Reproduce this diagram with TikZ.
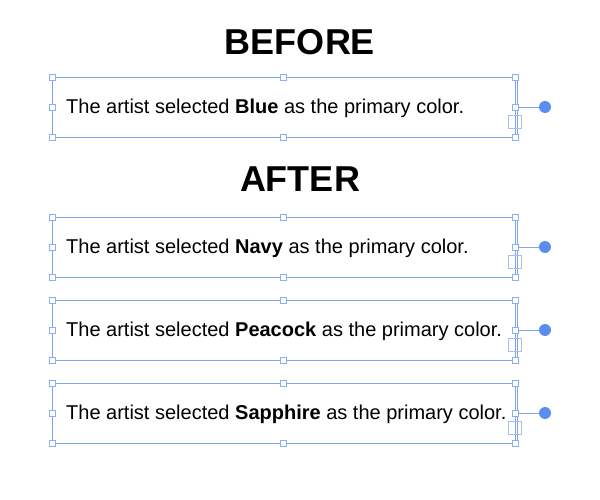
\documentclass[tikz,border=0pt]{standalone}
\usepackage{fontspec}
\setmainfont{Liberation Sans}
\definecolor{selblue}{HTML}{5B8DEF}
\tikzset{
  frame/.style={draw=selblue!80, line width=0.8pt},
  handle/.style={rectangle, fill=white, draw=selblue!70, line width=0.6pt, minimum size=6pt, inner sep=0pt},
  ghost/.style={rectangle, draw=selblue!55, line width=0.7pt, minimum size=13pt, inner sep=0pt},
  knob/.style={circle, fill=selblue, minimum size=12pt, inner sep=0pt},
  caption/.style={font=\fontsize{20}{22}\selectfont, anchor=west, inner sep=0pt},
  title/.style={font=\fontsize{36}{40}\selectfont\bfseries}
}
\newcommand{\selbox}[3]{% name, top y, colour word
  \draw[frame] (52,#2) rectangle (515,#2+60);
  \draw[frame] (517,#2) -- (517,#2+60);
  \node[caption] (#1t) at (66,#2+31) {The artist selected \textbf{#3} as the primary color.};
  \node[ghost] (#1g) at (515,#2+45) {};
  \node[handle] (#1nw) at (52,#2) {};
  \node[handle] (#1n) at (283,#2) {};
  \node[handle] (#1ne) at (515,#2) {};
  \node[handle] (#1w) at (52,#2+30) {};
  \node[handle] (#1e) at (515,#2+30) {};
  \node[handle] (#1sw) at (52,#2+60) {};
  \node[handle] (#1s) at (283,#2+60) {};
  \node[handle] (#1se) at (515,#2+60) {};
  \node[knob] (#1k) at (545,#2+30) {};
  \draw[frame] (#1e) -- (#1k);
}
\begin{document}
\begin{tikzpicture}[x=1pt,y=-1pt]
\useasboundingbox (0,0) rectangle (600,500);
\node[title] (before) at (300,42) {BEFORE};
\selbox{b}{77}{Blue}
\node[title] (after) at (300,179) {AFTER};
\selbox{n}{217}{Navy}
\selbox{p}{300}{Peacock}
\selbox{s}{383}{Sapphire}
\end{tikzpicture}
\end{document}
